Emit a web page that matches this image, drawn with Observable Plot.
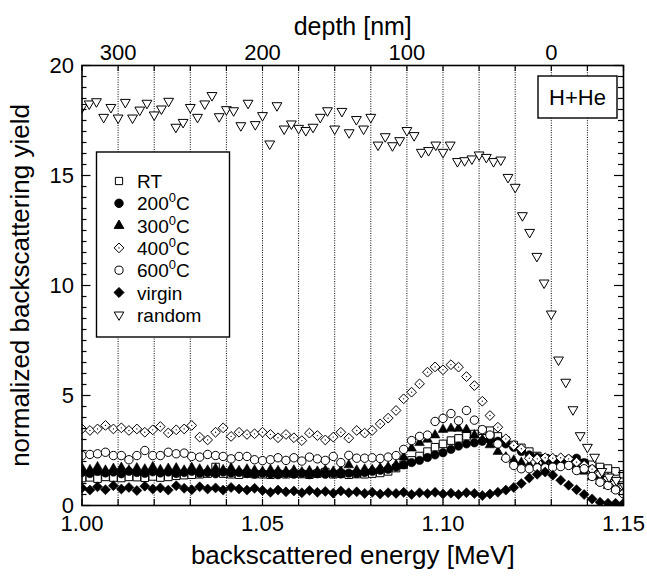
<!DOCTYPE html>
<html><head><meta charset="utf-8">
<script src="https://cdn.jsdelivr.net/npm/d3@7"></script>
<script src="https://cdn.jsdelivr.net/npm/@observablehq/plot@0.6"></script>
<style>
body{margin:0;background:#fff;}
#chart{width:647px;height:581px;}
</style></head><body><div id="chart"></div>
<script>
// ---------- data ----------
const eAligned = [1.0000,1.0022,1.0043,1.0065,1.0087,1.0109,1.0130,1.0152,1.0174,1.0196,1.0217,1.0239,1.0261,1.0283,1.0304,1.0326,1.0348,1.0370,1.0391,1.0413,1.0435,1.0457,1.0478,1.0500,
1.0522,1.0543,1.0565,1.0587,1.0609,1.0630,1.0652,1.0674,1.0696,1.0717,1.0739,1.0761,1.0783,1.0804,1.0826,1.0848,1.0870,1.0891,1.0913,1.0935,1.0957,1.0978,1.1000,
1.1022,1.1043,1.1065,1.1087,1.1109,1.1130,1.1152,1.1174,1.1196,1.1217,1.1239,1.1261,1.1283,1.1304,1.1326,1.1348,1.1370,1.1391,1.1413,1.1435,1.1457,1.1478,1.1500];

const yieldRT = [1.25,1.28,1.22,1.30,1.27,1.25,1.30,1.29,1.26,1.32,1.27,1.30,1.35,1.38,1.40,1.42,1.45,1.75,1.45,1.42,1.40,1.45,1.43,1.42,
1.40,1.44,1.42,1.45,1.43,1.40,1.45,1.52,1.42,1.45,1.40,1.43,1.42,1.45,1.48,1.55,1.70,1.85,2.05,2.25,2.45,2.65,2.80,
2.95,3.05,3.15,3.25,3.40,3.40,3.14,2.95,2.75,2.62,2.45,2.25,2.15,2.10,2.05,1.95,1.90,1.92,1.85,1.75,1.68,1.55,1.42];

const yield200 = [1.50,1.45,1.55,1.48,1.52,1.44,1.55,1.50,1.46,1.53,1.48,1.52,1.45,1.50,1.55,1.47,1.50,1.44,1.52,1.48,1.50,1.45,1.42,1.47,
1.43,1.40,1.45,1.42,1.46,1.40,1.44,1.42,1.45,1.43,1.47,1.45,1.50,1.55,1.60,1.65,1.75,1.85,1.95,2.05,2.18,2.30,2.40,
2.55,2.70,2.80,2.85,2.92,2.98,2.92,2.80,2.65,2.45,2.30,2.20,2.10,2.05,2.05,2.10,2.15,1.95,1.65,1.30,1.00,0.75,0.55];

const yield300 = [1.70,1.62,1.75,1.60,1.68,1.72,1.60,1.70,1.65,1.75,1.62,1.68,1.70,1.60,1.72,1.65,1.60,1.68,1.62,1.70,1.58,1.65,1.60,1.55,
1.62,1.58,1.55,1.60,1.52,1.58,1.55,1.60,1.55,1.58,1.84,1.60,1.65,1.62,1.70,1.75,1.85,2.20,2.60,2.85,3.00,3.20,3.45,
3.50,3.50,3.45,3.20,3.00,2.75,2.45,2.20,2.05,1.95,1.85,1.85,1.90,1.95,2.00,1.95,1.80,1.55,1.30,1.10,0.90,0.75,0.60];

const yield400 = [3.48,3.41,3.48,3.64,3.48,3.53,3.41,3.48,3.33,3.44,3.59,3.30,3.44,3.48,3.64,3.11,2.98,3.33,3.53,3.14,3.33,3.23,3.26,3.33,
3.23,3.08,3.23,3.08,2.95,3.29,3.18,2.98,3.11,3.33,3.06,3.41,3.29,3.41,3.71,3.97,4.32,4.85,5.15,5.53,6.06,6.30,6.17,
6.40,6.29,5.86,5.45,4.74,4.09,3.56,3.03,2.73,2.58,2.15,2.12,2.17,2.15,2.17,2.12,1.97,1.82,1.65,1.45,1.25,1.05,0.85];

const yield600 = [2.27,2.32,2.35,2.42,2.27,2.27,2.08,2.27,2.50,2.27,2.27,2.42,2.35,2.38,2.23,2.20,2.32,2.27,2.23,2.12,2.23,2.23,2.08,2.04,
2.08,2.17,2.05,2.17,2.02,2.20,2.12,2.05,2.23,1.95,2.28,2.15,2.15,2.17,2.14,2.20,2.27,2.55,2.95,3.14,3.20,3.82,3.96,
4.18,3.85,4.32,3.88,3.45,3.20,2.80,2.15,1.82,1.67,1.67,1.71,1.71,1.74,1.77,1.82,1.59,1.67,1.32,1.06,0.91,0.71,0.53];

const yieldVirgin = [0.80,0.70,0.85,0.72,0.90,0.75,0.82,0.68,0.88,0.75,0.80,0.70,0.90,0.78,0.72,0.85,0.75,0.80,0.70,0.82,0.75,0.70,0.78,0.68,
0.60,0.70,0.62,0.66,0.58,0.68,0.60,0.64,0.56,0.66,0.58,0.62,0.55,0.60,0.52,0.58,0.55,0.60,0.50,0.58,0.54,0.60,0.52,
0.56,0.50,0.58,0.55,0.45,0.52,0.60,0.70,0.82,1.00,1.25,1.42,1.52,1.38,1.15,0.92,0.72,0.50,0.30,0.15,0.10,0.10,0.10];

const eRandom = [1.000,1.002,1.004,1.006,1.008,1.010,1.012,1.014,1.016,1.018,1.020,1.022,1.024,1.026,1.028,1.030,1.032,1.034,1.036,1.038,
1.040,1.042,1.044,1.046,1.048,1.050,1.052,1.054,1.056,1.058,1.060,1.062,1.064,1.066,1.068,1.070,1.072,1.074,1.076,1.078,
1.080,1.082,1.084,1.086,1.088,1.090,1.092,1.094,1.096,1.098,1.100,1.102,1.104,1.106,1.108,1.110,1.112,1.114,1.116,1.118,
1.120,1.122,1.124,1.126,1.128,1.130,1.132,1.134,1.136,1.138,1.140,1.142,1.144,1.146,1.148,1.150];
const yieldRandom = [18.10,18.26,18.36,17.65,18.10,17.62,18.33,17.62,17.98,18.29,17.76,18.03,18.38,17.20,17.42,18.10,17.65,18.26,18.64,17.68,
18.00,17.95,17.27,18.29,17.32,17.73,16.44,18.18,17.12,17.35,17.15,17.05,17.20,17.65,17.95,17.12,17.92,16.95,17.55,17.12,
17.65,16.39,16.77,16.36,16.59,17.05,16.82,16.06,16.14,16.39,16.06,16.39,15.64,15.68,15.76,15.94,15.83,15.64,15.71,14.92,
14.47,13.18,12.42,11.33,10.12,8.71,6.62,5.61,4.36,3.18,2.65,2.20,1.55,1.30,1.15,0.95];

// axes / ticks
const gridEnergies = [1.01,1.02,1.03,1.04,1.05,1.06,1.07,1.08,1.09,1.10,1.11,1.12,1.13,1.14];
const xTickEnergies = [1.00,1.01,1.02,1.03,1.04,1.05,1.06,1.07,1.08,1.09,1.10,1.11,1.12,1.13,1.14,1.15];
const xLabelEnergies = [1.00,1.05,1.10,1.15];
const xLabels = ["1.00","1.05","1.10","1.15"];
const depthLabels = ["300","200","100","0"];
const depthEnergies = [1.01,1.05,1.09,1.13];
const yMajor = [0,5,10,15,20];
const yMinor = [0.5,1,1.5,2,2.5,3,3.5,4,4.5,5.5,6,6.5,7,7.5,8,8.5,9,9.5,10.5,11,11.5,12,12.5,13,13.5,14,14.5,15.5,16,16.5,17,17.5,18,18.5,19,19.5];
const legendLabels = [["RT"],["200","0","C"],["300","0","C"],["400","0","C"],["600","0","C"],["virgin"],["random"]];

// ---------- build ----------
const FONT = "'Liberation Sans', Arial, Helvetica, sans-serif";
const W = 647, H = 581, mL = 81.5, mR = 24, mT = 65, mB = 76;
const innerW = W - mL - mR, innerH = H - mT - mB;

const triDown = {draw(ctx, size){ const s = Math.sqrt(size)*0.6824, t = s/2, u = s*Math.sqrt(3)/2; ctx.moveTo(0, s); ctx.lineTo(u, -t); ctx.lineTo(-u, -t); ctx.closePath(); }};

const aligned = eAligned.map((e,i) => ({e, rt: yieldRT[i], t200: yield200[i], t300: yield300[i], t400: yield400[i], t600: yield600[i], virgin: yieldVirgin[i]}));
const random = eRandom.map((e,i) => ({e, v: yieldRandom[i]}));

const openStyle = {fill: "white", stroke: "black", strokeWidth: 1, clip: true};
const fillStyle = {fill: "black", stroke: "black", strokeWidth: 0.6, clip: true};

const chart = Plot.plot({
  width: W, height: H,
  marginLeft: mL, marginRight: mR, marginTop: mT, marginBottom: mB,
  x: {domain: [1.0, 1.15], axis: null},
  y: {domain: [0, 20], axis: null},
  style: {fontFamily: FONT, fontSize: "21px", color: "black", background: "white", overflow: "visible"},
  marks: [
    Plot.ruleX(gridEnergies, {x: d => d, stroke: "black", strokeWidth: 1, strokeDasharray: "1,1.4"}),
    Plot.dot(aligned, {x: "e", y: "rt", symbol: "square2", r: 4.8, ...openStyle}),
    Plot.dot(aligned, {x: "e", y: "t200", symbol: "circle", r: 4.2, ...fillStyle}),
    Plot.dot(aligned, {x: "e", y: "t300", symbol: "triangle2", r: 4.6, ...fillStyle}),
    Plot.dot(aligned, {x: "e", y: "t400", symbol: "diamond2", r: 4.4, ...openStyle}),
    Plot.dot(aligned, {x: "e", y: "t400", symbol: "circle", r: 0.65, fill: "black", clip: true}),
    Plot.dot(aligned, {x: "e", y: "t600", symbol: "circle", r: 4.2, ...openStyle}),
    Plot.dot(aligned, {x: "e", y: "virgin", symbol: "diamond2", r: 4.5, ...fillStyle}),
    Plot.dot(random, {x: "e", y: "v", symbol: triDown, r: 4.7, ...openStyle}),
    Plot.frame({stroke: "black", strokeWidth: 1.6}),
    // ticks (inward)
    Plot.ruleX(xTickEnergies, {x: d => d, insetTop: innerH - 6, stroke: "black", strokeWidth: 1.2}),
    Plot.ruleX(xTickEnergies, {x: d => d, insetBottom: innerH - 6, stroke: "black", strokeWidth: 1.2}),
    Plot.ruleY(yMajor, {y: d => d, insetRight: innerW - 9, stroke: "black", strokeWidth: 1.2}),
    Plot.ruleY(yMinor, {y: d => d, insetRight: innerW - 5, stroke: "black", strokeWidth: 1.2}),
    Plot.ruleY(yMajor, {y: d => d, insetLeft: innerW - 9, stroke: "black", strokeWidth: 1.2}),
    Plot.ruleY(yMinor, {y: d => d, insetLeft: innerW - 5, stroke: "black", strokeWidth: 1.2}),
    // tick labels
    Plot.text(xLabelEnergies, {x: d => d, text: (d,i) => xLabels[i], frameAnchor: "bottom", dy: 25, fontSize: 22}),
    Plot.text(depthEnergies, {x: d => d, text: (d,i) => depthLabels[i], frameAnchor: "top", dy: -21, fontSize: 22}),
    Plot.text(yMajor, {y: d => d, text: d => String(d), frameAnchor: "left", textAnchor: "end", dx: -8, fontSize: 22}),
    // titles
    Plot.text(["depth [nm]"], {frameAnchor: "top", dy: -48, fontSize: 25}),
    Plot.text(["backscattered energy [MeV]"], {frameAnchor: "bottom", dy: 58, fontSize: 26}),
    Plot.text(["normalized backscattering yield"], {frameAnchor: "left", textAnchor: "middle", rotate: -90, dx: -61, fontSize: 26})
  ]
});
document.getElementById("chart").appendChild(chart);

// ---------- legend & annotation ----------
const svg = d3.select(chart);
const lg = svg.append("g").attr("font-family", FONT).attr("font-size", 19).attr("text-anchor", "start");
lg.append("rect").attr("x", 96.5).attr("y", 152).attr("width", 133).attr("height", 185)
  .attr("fill", "white").attr("stroke", "black").attr("stroke-width", 1.4);
const legendSyms = [
  {sym: d3.symbolSquare2, r: 4.6, fill: "white"},
  {sym: d3.symbolCircle, r: 4.2, fill: "black"},
  {sym: d3.symbolTriangle2, r: 4.6, fill: "black"},
  {sym: d3.symbolDiamond2, r: 4.4, fill: "white", dot: true},
  {sym: d3.symbolCircle, r: 4.1, fill: "white"},
  {sym: d3.symbolDiamond2, r: 4.5, fill: "black"},
  {sym: triDown, r: 4.6, fill: "white"}
];
legendLabels.forEach((parts, i) => {
  const y = 181 + i * 22.3;
  const s = legendSyms[i];
  lg.append("path").attr("d", d3.symbol(s.sym, Math.PI * s.r * s.r)())
    .attr("transform", `translate(119,${y})`)
    .attr("fill", s.fill).attr("stroke", "black").attr("stroke-width", 1);
  if (s.dot) lg.append("circle").attr("cx", 119).attr("cy", y).attr("r", 0.65).attr("fill", "black");
  const t = lg.append("text").attr("x", 137).attr("y", y + 7).attr("text-anchor", "start");
  t.append("tspan").text(parts[0]);
  if (parts.length > 1) {
    t.append("tspan").attr("dy", -8).attr("font-size", 13).text(parts[1]);
    t.append("tspan").attr("dy", 8).text(parts[2]);
  }
});
const ann = svg.append("g").attr("font-family", FONT);
ann.append("rect").attr("x", 538).attr("y", 76).attr("width", 79).attr("height", 42)
  .attr("fill", "white").attr("stroke", "black").attr("stroke-width", 1.4);
ann.append("text").attr("x", 577.5).attr("y", 105).attr("text-anchor", "middle")
  .attr("font-size", 22).text("H+He");
</script>
</body></html>
